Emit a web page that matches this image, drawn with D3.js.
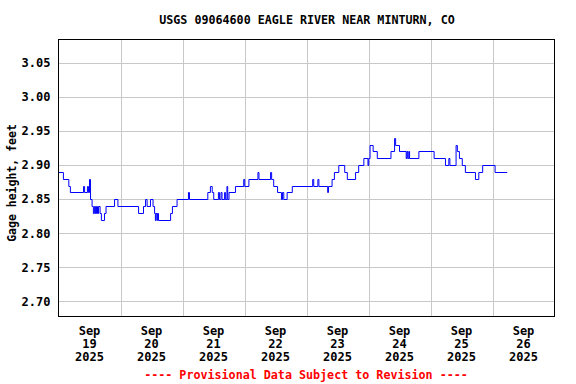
<!DOCTYPE html>
<html>
<head>
<meta charset="utf-8">
<script src="https://cdn.jsdelivr.net/npm/d3@7"></script>
<style>
  body { margin: 0; background: #fff; }
  svg text { font-family: "DejaVu Sans Mono", monospace; font-weight: bold; }
</style>
</head>
<body>
<svg id="chart" width="576" height="384"></svg>
<script>
// Gage height readings, as step changes: hours after Sep 19 2025 00:00, and feet.
var stepHours = [0, 1.9, 4.0, 4.6, 9.7, 10.1, 11.2, 11.6, 12.0, 12.4, 13.0, 13.5, 13.9, 14.3,
    14.7, 15.1, 15.5, 16.1, 16.6, 17.8, 18.4, 21.7, 23.0, 31.0, 32.9, 33.7, 34.3, 35.6, 36.6,
    37.2, 37.5, 37.7, 38.1, 38.3, 38.7, 43.4, 44.1, 45.9, 50.3, 50.7, 57.8, 58.8, 59.5, 60.1,
    61.9, 62.3, 62.9, 63.3, 64.3, 64.6, 65.2, 65.5, 66.0, 68.5, 71.7, 72.1, 73.7, 77.2, 77.6,
    82.1, 82.5, 83.3, 84.8, 86.3, 86.7, 87.2, 88.5, 90.5, 98.4, 98.8, 100.4, 100.8, 104.2,
    104.5, 105.9, 106.8, 108.5, 110.8, 111.8, 115.0, 116.2, 118.2, 119.8, 120.1, 120.6, 121.8,
    123.4, 128.7, 130.1, 130.5, 132.0, 134.6, 134.9, 135.2, 135.6, 135.9, 139.5, 145.4, 149.8,
    151.1, 151.5, 153.9, 154.4, 155.2, 156.3, 157.5, 161.4, 162.7, 164.2, 169.0];
var stepValues = [2.89, 2.88, 2.87, 2.86, 2.87, 2.86, 2.87, 2.86, 2.88, 2.85, 2.84, 2.83, 2.84,
    2.83, 2.84, 2.83, 2.84, 2.83, 2.82, 2.83, 2.84, 2.85, 2.84, 2.83, 2.84, 2.85, 2.84, 2.85,
    2.84, 2.83, 2.82, 2.83, 2.82, 2.83, 2.82, 2.83, 2.84, 2.85, 2.86, 2.85, 2.86, 2.87, 2.86,
    2.85, 2.86, 2.85, 2.86, 2.85, 2.86, 2.85, 2.87, 2.85, 2.86, 2.87, 2.88, 2.87, 2.88, 2.89,
    2.88, 2.89, 2.88, 2.87, 2.86, 2.85, 2.86, 2.85, 2.86, 2.87, 2.88, 2.87, 2.88, 2.87, 2.86,
    2.87, 2.88, 2.89, 2.90, 2.89, 2.88, 2.89, 2.90, 2.91, 2.90, 2.91, 2.93, 2.92, 2.91, 2.92,
    2.94, 2.93, 2.92, 2.91, 2.92, 2.91, 2.92, 2.91, 2.92, 2.91, 2.90, 2.91, 2.90, 2.93, 2.92,
    2.91, 2.90, 2.89, 2.88, 2.89, 2.90, 2.89];
var lastHour = 173.7;

var yTicks = [2.70, 2.75, 2.80, 2.85, 2.90, 2.95, 3.00, 3.05];
var dayLabels = ["19", "20", "21", "22", "23", "24", "25", "26"];
var monthLabel = "Sep";
var yearLabel = "2025";
var title = "USGS 09064600 EAGLE RIVER NEAR MINTURN, CO";
var yLabel = "Gage height, feet";
var footer = "---- Provisional Data Subject to Revision ----";

var startDate = new Date(Date.UTC(2025, 8, 19));
var endDate = new Date(Date.UTC(2025, 8, 27));

function hoursToDate(h) {
    return new Date(startDate.getTime() + h * 3600 * 1000);
}

var svg = d3.select("#chart");
// plot box edges (not named top/left: window.top is read-only)
var plotL = 58.5, plotR = 554.5, plotT = 39.5, plotB = 316.5;

var x = d3.scaleUtc().domain([startDate, endDate]).range([plotL, plotR]);
var y = d3.scaleLinear().domain([2.678, 3.084]).range([plotB, plotT]);

// title
svg.append("text")
    .attr("x", 307).attr("y", 24)
    .attr("text-anchor", "middle")
    .style("font-size", "11.7px")
    .text(title);

// horizontal gridlines
svg.selectAll(".hgrid")
    .data(yTicks)
    .enter().append("line")
    .attr("class", "hgrid")
    .attr("x1", plotL).attr("x2", plotR)
    .attr("y1", function(d) { return Math.round(y(d)) + 0.5; })
    .attr("y2", function(d) { return Math.round(y(d)) + 0.5; })
    .style("stroke", "#c8c8c8");

// vertical gridlines at midnight
var days = d3.utcDay.range(startDate, endDate);
svg.selectAll(".vgrid")
    .data(days.slice(1))
    .enter().append("line")
    .attr("class", "vgrid")
    .attr("x1", function(d) { return Math.round(x(d)) + 0.5; })
    .attr("x2", function(d) { return Math.round(x(d)) + 0.5; })
    .attr("y1", plotT).attr("y2", plotB)
    .style("stroke", "#c8c8c8");

// y tick labels
var yAxis = d3.axisLeft(y)
    .tickValues(yTicks)
    .tickFormat(d3.format(".2f"))
    .tickSize(0)
    .tickPadding(7);
var yAxisG = svg.append("g")
    .attr("transform", "translate(" + (plotL - 1) + ",0)")
    .call(yAxis);
yAxisG.select(".domain").remove();
yAxisG.selectAll("text")
    .style("font-size", "12px")
    .style("font-family", "DejaVu Sans Mono, monospace")
    .style("font-weight", "bold")
    .attr("fill", "#000");

// x labels centred at noon
var noons = days.map(function(d) { return new Date(d.getTime() + 12 * 3600 * 1000); });
var xLab = svg.selectAll(".xlab")
    .data(noons)
    .enter().append("text")
    .attr("class", "xlab")
    .attr("text-anchor", "middle")
    .style("font-size", "12px");
xLab.append("tspan")
    .attr("x", function(d) { return x(d); }).attr("y", 335)
    .text(monthLabel);
xLab.append("tspan")
    .attr("x", function(d) { return x(d); }).attr("y", 348)
    .text(function(d, i) { return dayLabels[i]; });
xLab.append("tspan")
    .attr("x", function(d) { return x(d); }).attr("y", 361)
    .text(yearLabel);

// y axis title
svg.append("text")
    .attr("transform", "translate(16,183) rotate(-90)")
    .attr("text-anchor", "middle")
    .style("font-size", "11.5px")
    .text(yLabel);

// data line
var points = stepHours.map(function(h, i) { return [hoursToDate(h), stepValues[i]]; });
points.push([hoursToDate(lastHour), stepValues[stepValues.length - 1]]);
var line = d3.line()
    .x(function(d) { return x(d[0]); })
    .y(function(d) { return Math.round(y(d[1])) + 0.5; })
    .curve(d3.curveStepAfter);
svg.append("path")
    .datum(points)
    .attr("d", line)
    .style("fill", "none")
    .style("stroke", "#0000ff")
    .style("stroke-width", 1);

// plot border
svg.append("rect")
    .attr("x", plotL).attr("y", plotT)
    .attr("width", plotR - plotL).attr("height", plotB - plotT)
    .style("fill", "none")
    .style("stroke", "#000");

// footer
svg.append("text")
    .attr("x", 306).attr("y", 379)
    .attr("text-anchor", "middle")
    .style("font-size", "11.7px")
    .attr("fill", "#ff0000")
    .text(footer);
</script>
</body>
</html>
